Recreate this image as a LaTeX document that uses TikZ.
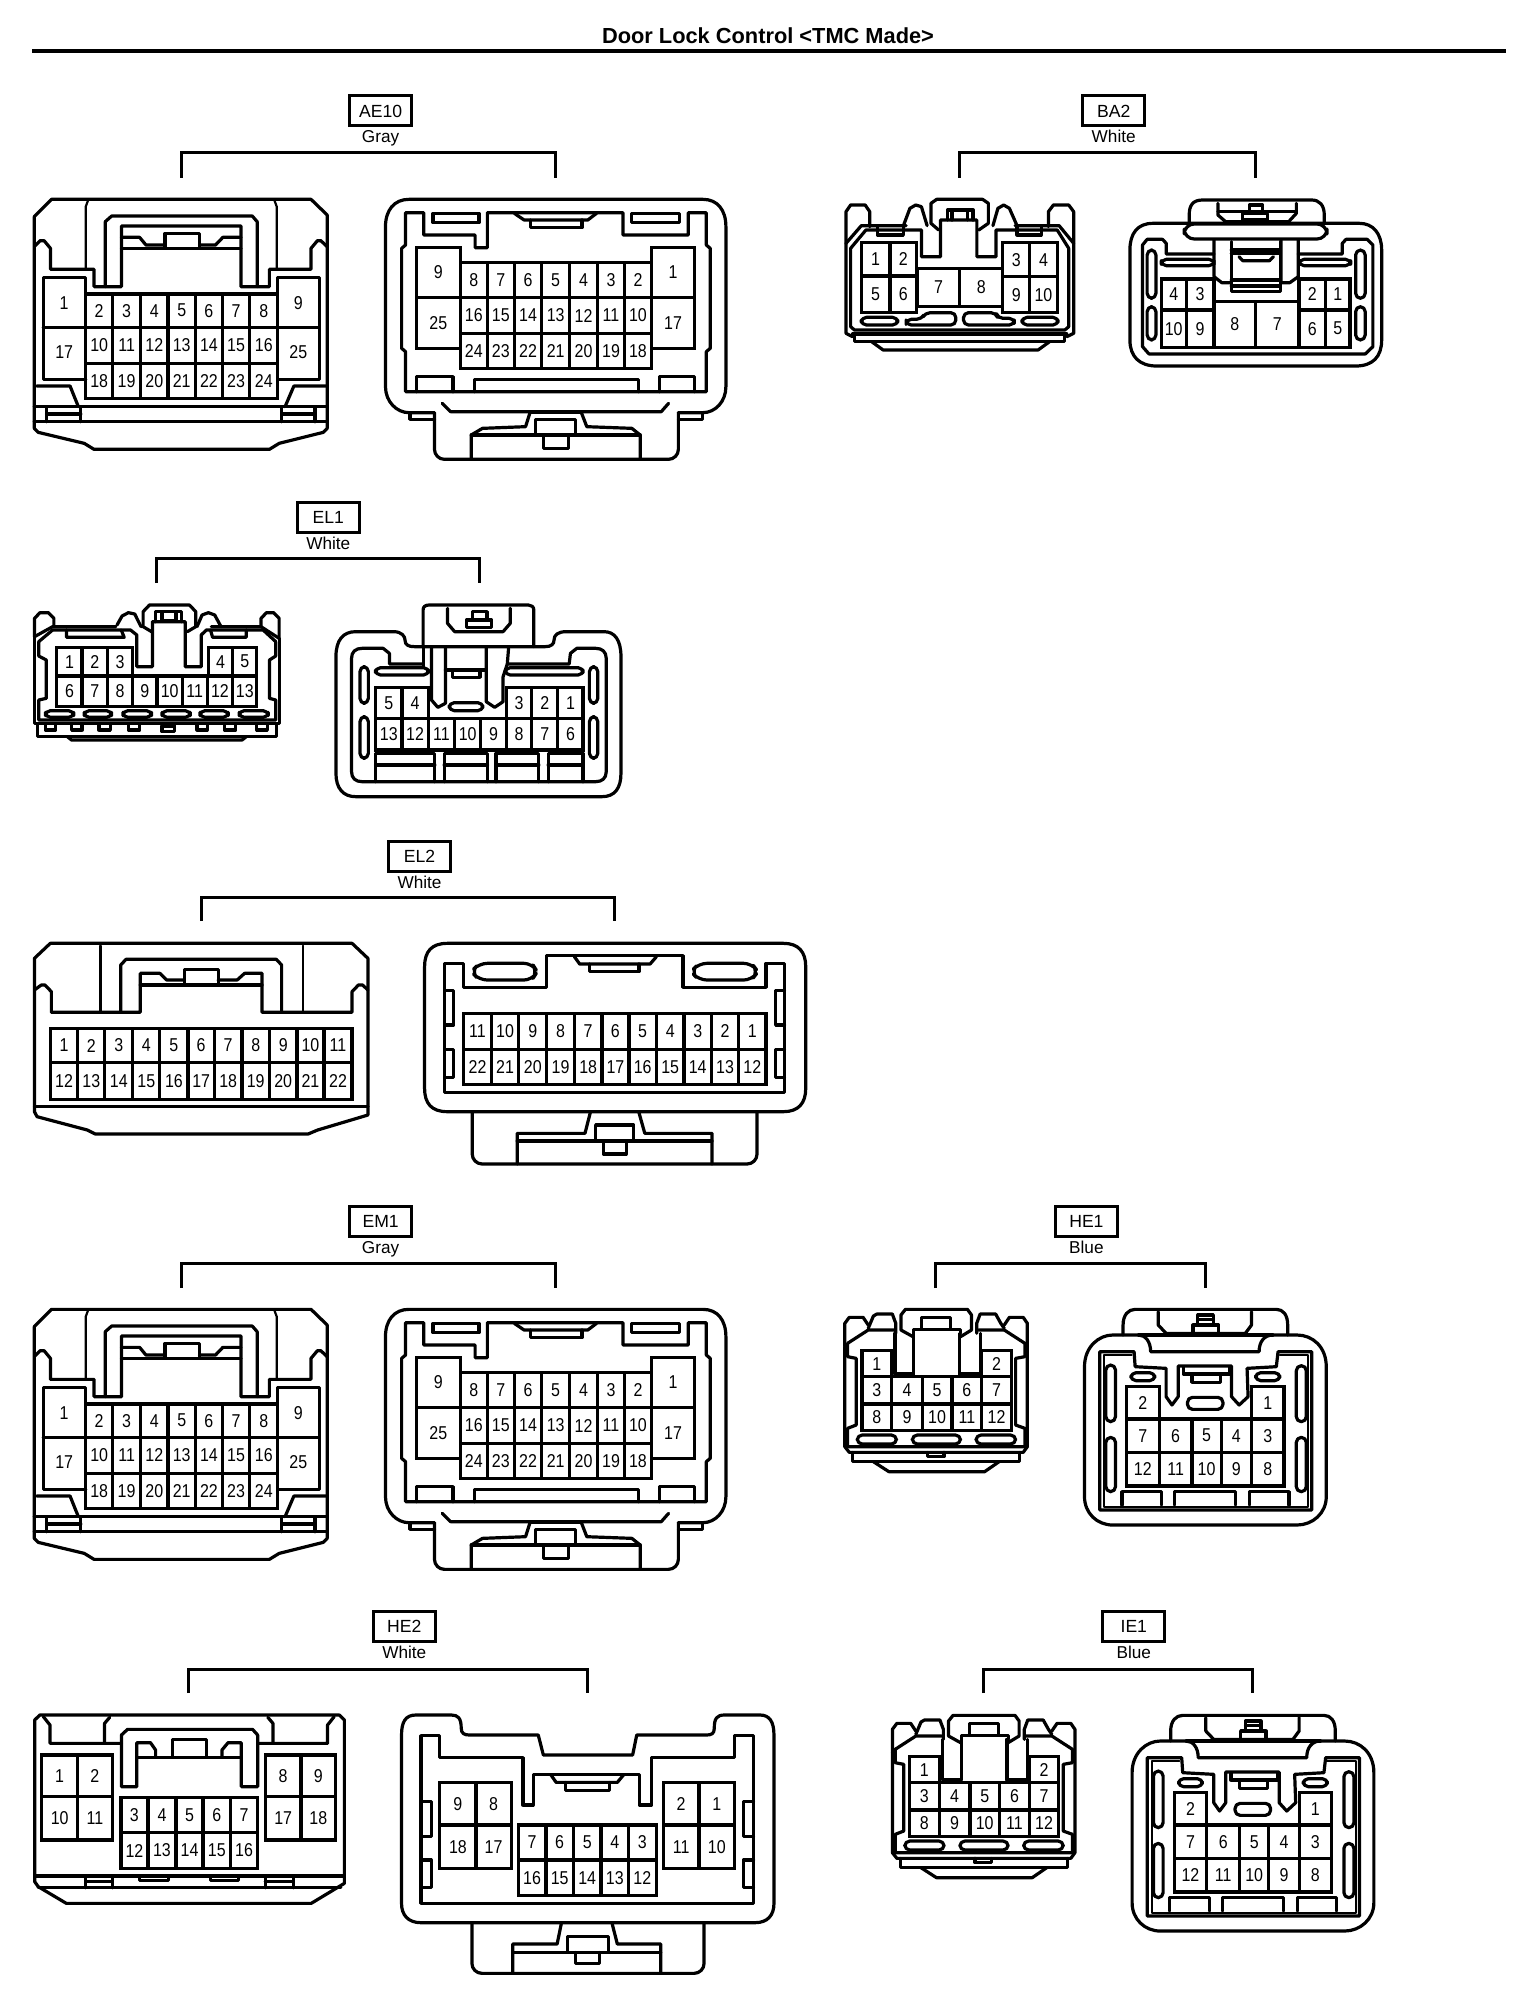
\documentclass[tikz,border=0pt]{standalone}
\usepackage{fontspec}
\setmainfont{Liberation Sans}
\newfontfamily\pinfont[FakeStretch=0.86]{Liberation Sans}
\newcounter{pinno}
\tikzset{
  ln/.style={line width=1.6pt,line join=round,line cap=round},
  thinln/.style={line width=1.1pt,line join=round,line cap=round},
  rnd/.style={ln,rounded corners=5pt},
  cellbox/.style={ln,line join=miter},
  slotln/.style={ln,rounded corners=2.5pt},
  pinlab/.style={font=\pinfont\fontsize{9.3}{10}\selectfont,inner sep=0pt},
  tagbox/.style={draw,line width=1.5pt,minimum width=31pt,minimum height=15pt,inner sep=0pt,font=\fontsize{8.8}{10}\selectfont},
  tagcol/.style={inner sep=0pt,anchor=base,font=\fontsize{8.6}{10}\selectfont},
  brk/.style={line width=1.5pt,line join=miter},
  titletext/.style={inner sep=0pt,font=\fontsize{10.9}{12}\selectfont\bfseries},
  zview/.style n args={3}{shift={(#1,#2)},x=#3,y=-0.16667pt}
}
% one row of numbered cells: y0, y1, first x, list of right-edge/label
\newcommand\cellrow[4]{%
  \foreach \xe/\lbl [remember=\xe as \xs (initially #3)] in {#4} {%
    \draw[cellbox] (\xs,#1) rectangle (\xe,#2);
    \stepcounter{pinno}%
    \node[pinlab] (p\thepinno) at ({(\xs+\xe)/2},{(#1+#2)/2}) {\lbl};
  }%
}
\newcommand\slotbox[4]{\draw[slotln] (#1,#2) rectangle (#3,#4);}
\newcommand\conntag[8]{% id, cx, cy, colour, xl, xr, ytop, yend
  \node[tagbox] (tag#1) at (#2,#3) {#1};
  \node[tagcol] (col#1) at (#2,#3+32) {#4};
  \coordinate (a#1) at (#5,#8);
  \coordinate (b#1) at (#6,#8);
  \coordinate (t#1) at ({(#5+#6)/2},#7);
  \draw[brk] (a#1) |- (t#1) -| (b#1);
}
\newcommand\drawAE{%
\begin{scope}[zview={0}{0}{0.2449pt}]
  % left
  \draw[ln] (70,650) -- (105,598) -- (635,598) -- (668,645) -- (668,1285) -- (660,1297) -- (570,1330) -- (550,1348) -- (192,1348) -- (172,1330) -- (78,1297) -- (70,1285) -- cycle;
  \draw[ln] (70,740) -- (82,722) -- (90,722) -- (103,745) -- (103,808) -- (192,808) -- (192,860) -- (248,860) -- (248,678) -- (492,678) -- (492,860) -- (550,860) -- (550,808) -- (635,808) -- (635,745) -- (648,722) -- (655,722) -- (668,740);
  \draw[thinln] (180,600) -- (175,620) -- (175,808);
  \draw[thinln] (560,600) -- (565,620) -- (565,808);
  \draw[ln] (215,860) -- (215,665) -- (228,648) -- (515,648) -- (525,665) -- (525,860);
  \draw[ln] (248,712) -- (285,712) -- (298,735) -- (337,735);
  \draw[ln] (492,712) -- (455,712) -- (440,735) -- (407,735);
  \draw[ln] (248,745) -- (492,745);
  \draw[ln] (337,745) -- (337,700) -- (407,700) -- (407,745);
  \draw[ln] (175,882) -- (175,832) -- (88,832) -- (88,1138) -- (175,1138);
  \draw[ln] (567,882) -- (567,832) -- (652,832) -- (652,1138) -- (567,1138);
  \draw[ln] (88,982) -- (175,982);
  \draw[ln] (567,982) -- (652,982);
  \node[pinlab] (ae1) at (131,908) {1};
  \node[pinlab] (ae17) at (131,1056) {17};
  \node[pinlab] (ae9) at (609,908) {9};
  \node[pinlab] (ae25) at (609,1056) {25};
  \cellrow{882}{982}{175}{230/2,287/3,343/4,399/5,454/6,510/7,567/8}
  \cellrow{982}{1090}{175}{230/10,287/11,343/12,399/13,454/14,510/15,567/16}
  \cellrow{1090}{1195}{175}{230/18,287/19,343/20,399/21,454/22,510/23,567/24}
  \draw[ln] (75,1158) -- (143,1158) -- (160,1220);
  \draw[ln] (668,1158) -- (600,1158) -- (582,1220);
  \draw[ln] (70,1220) -- (668,1220);
  \draw[ln] (70,1265) -- (668,1265);
  \draw[ln] (95,1220) -- (95,1265);
  \draw[ln] (165,1220) -- (165,1265);
  \draw[ln] (575,1220) -- (575,1265);
  \draw[ln] (643,1220) -- (643,1265);
  \draw[ln] (95,1242) -- (165,1242);
  \draw[ln] (575,1242) -- (643,1242);
  % right
  \draw[ln] (887,1238) -- (835,1238) .. controls (810,1238) and (787,1205) .. (787,1160) -- (787,680) .. controls (787,630) and (805,598) .. (835,598) -- (1435,598) .. controls (1465,598) and (1482,630) .. (1482,680) -- (1482,1160) .. controls (1482,1205) and (1460,1238) .. (1435,1238) -- (1385,1238);
  \draw[ln] (837,1238) -- (837,1258) -- (887,1258);
  \draw[ln] (1435,1238) -- (1435,1258) -- (1385,1258);
  \draw[rnd] (887,1238) -- (887,1378) -- (1385,1378) -- (1385,1238);
  \draw[ln] (828,735) -- (828,638) -- (865,638) -- (865,705) -- (970,705) -- (970,743) -- (995,743) -- (995,638) -- (1272,638) -- (1272,705) -- (1405,705) -- (1405,638) -- (1442,638) -- (1442,735) -- (1450,745) -- (1450,1045) -- (1442,1055) -- (1442,1175) -- (828,1175) -- (828,1055) -- (820,1045) -- (820,745) -- cycle;
  \draw[ln] (1050,640) -- (1070,660) -- (1200,660) -- (1218,640);
  \draw[ln] (1083,660) -- (1083,683) -- (1188,683) -- (1188,660);
  \draw[ln] (884,640) rectangle (978,668);
  \draw[ln] (1290,640) rectangle (1387,668);
  \cellrow{742}{893}{850}{940/9}
  \cellrow{893}{1045}{850}{940/25}
  \cellrow{742}{893}{1330}{1418/1}
  \cellrow{893}{1045}{1330}{1418/17}
  \cellrow{787}{893}{940}{995/8,1050/7,1106/6,1163/5,1220/4,1275/3,1330/2}
  \cellrow{893}{1000}{940}{995/16,1050/15,1106/14,1163/13,1220/12,1275/11,1330/10}
  \cellrow{1000}{1105}{940}{995/24,1050/23,1106/22,1163/21,1220/20,1275/19,1330/18}
  \draw[ln] (850,1175) -- (850,1130) -- (925,1130) -- (925,1175);
  \draw[ln] (968,1175) -- (968,1138) -- (1303,1138) -- (1303,1175);
  \draw[ln] (1347,1175) -- (1347,1130) -- (1418,1130) -- (1418,1175);
  \draw[ln] (903,1210) -- (920,1235) -- (1350,1235) -- (1365,1210);
  \draw[ln] (1082,1238) -- (1187,1238);
  \draw[ln] (1082,1238) -- (1073,1280) -- (985,1285) -- (962,1305) -- (962,1378);
  \draw[ln] (1187,1238) -- (1198,1280) -- (1290,1285) -- (1307,1305) -- (1307,1378);
  \draw[ln] (962,1305) -- (1307,1305);
  \draw[ln] (1093,1305) -- (1093,1258) -- (1175,1258) -- (1175,1305);
  \draw[ln] (1110,1305) -- (1110,1345) -- (1160,1345) -- (1160,1305);
\end{scope}}
\newcommand\drawHE{%
\begin{scope}[zview={820}{1200}{0.1722pt}]
  % left
  \draw[ln] (72,440) -- (72,370) -- (85,352) -- (125,352) -- (140,375);
  \draw[ln] (535,375) -- (550,352) -- (590,352) -- (602,370) -- (602,740) -- (590,757) -- (85,757) -- (72,740) -- (72,440);
  \draw[ln] (80,430) -- (140,390) -- (215,390);
  \draw[ln] (595,430) -- (535,390) -- (460,390);
  \draw[ln] (140,385) -- (155,348) -- (165,342) -- (210,342) -- (220,370) -- (220,400);
  \draw[ln] (455,400) -- (455,370) -- (465,342) -- (510,342) -- (525,370) -- (535,385);
  \draw[ln] (270,410) -- (235,390) -- (235,345) -- (248,328) -- (428,328) -- (440,345) -- (440,390) -- (408,410);
  \draw[ln] (272,400) -- (272,388) -- (295,388) -- (295,352) -- (380,352) -- (380,388) -- (408,388) -- (408,400);
  \draw[ln] (295,388) -- (380,388);
  \draw[ln] (218,400) -- (218,522) -- (272,522) -- (272,400);
  \draw[ln] (405,400) -- (405,522) -- (465,522) -- (465,400);
  \draw[ln] (80,430) -- (80,470) -- (105,475) -- (105,675) -- (80,685) -- (80,740) -- (595,740) -- (595,685) -- (568,675) -- (568,475) -- (595,470) -- (595,430);
  \cellrow{452}{530}{122}{208/1}
  \cellrow{452}{530}{470}{555/2}
  \cellrow{530}{612}{122}{208/3,297/4,383/5,470/6,555/7}
  \cellrow{612}{692}{122}{208/8,297/9,383/10,470/11,555/12}
  \slotbox{108}{705}{222}{732}
  \slotbox{268}{705}{408}{732}
  \slotbox{453}{705}{568}{732}
  \draw[ln] (95,757) -- (95,785) -- (580,785) -- (580,757);
  \draw[ln] (155,785) -- (200,815) -- (478,815) -- (520,785);
  \draw[ln] (312,757) -- (312,770) -- (360,770) -- (360,757);
  % right
  \draw[ln] (768,500) .. controls (768,440) and (810,405) .. (850,405) -- (925,405) .. controls (945,405) and (960,425) .. (960,455) -- (1275,455) .. controls (1275,425) and (1290,405) .. (1315,405) -- (1385,405) .. controls (1430,405) and (1470,440) .. (1470,500) -- (1470,890) .. controls (1470,940) and (1430,975) .. (1385,975) -- (850,975) .. controls (805,975) and (768,940) .. (768,890) -- cycle;
  \draw[ln] (925,405) -- (1315,405);
  \draw[ln] (880,405) -- (880,375) .. controls (880,345) and (895,328) .. (915,328) -- (1325,328) .. controls (1345,328) and (1358,345) .. (1358,375) -- (1358,405);
  \draw[ln] (982,335) -- (982,375) -- (1005,400) -- (1235,400) -- (1253,375) -- (1253,335);
  \draw[ln] (1083,397) -- (1083,375) -- (1157,375) -- (1157,397);
  \draw[ln] (1097,375) -- (1097,345) -- (1142,345) -- (1142,375);
  \draw[ln] (1097,358) -- (1142,358);
  \draw[ln] (812,455) -- (912,455) -- (915,500) -- (1005,505) -- (1005,590) -- (1022,615) -- (1040,590) -- (1040,498) -- (1195,498) -- (1195,590) -- (1217,615) -- (1243,590) -- (1240,505) -- (1325,500) -- (1330,455) -- (1428,455) -- (1428,930) -- (812,930) -- cycle;
  \draw[thinln] (905,465) -- (825,465) -- (825,920) -- (1418,920) -- (1418,465) -- (1335,465);
  \draw[ln] (1055,502) -- (1055,522) -- (1190,522) -- (1190,502);
  \draw[ln] (1080,522) -- (1080,547) -- (1162,547) -- (1162,522);
  \slotbox{903}{518}{972}{542}
  \slotbox{1265}{518}{1335}{542}
  \slotbox{1067}{592}{1170}{628}
  \slotbox{830}{495}{858}{665}
  \slotbox{830}{712}{858}{875}
  \slotbox{1383}{497}{1412}{665}
  \slotbox{1383}{712}{1412}{875}
  \cellrow{560}{657}{890}{985/2}
  \cellrow{560}{657}{1253}{1347/1}
  \cellrow{657}{757}{890}{985/7,1080/6,1165/5,1253/4,1347/3}
  \cellrow{757}{858}{890}{985/12,1080/11,1165/10,1253/9,1347/8}
  \draw[ln] (877,915) -- (877,875) -- (992,875) -- (992,915);
  \draw[ln] (1030,915) -- (1030,875) -- (1207,875) -- (1207,915);
  \draw[ln] (1248,915) -- (1248,875) -- (1362,875) -- (1362,915);
\end{scope}}
\begin{document}
\begin{tikzpicture}[x=0.5pt,y=-0.5pt]
\useasboundingbox (0,0) rectangle (1536,2000);
\node[titletext] (title) at (768,36) {Door Lock Control <TMC Made>};
\coordinate (ruleL) at (32,51);
\coordinate (ruleR) at (1506,51);
\draw[line width=2pt] (ruleL) -- (ruleR);
% tags and brackets
\conntag{AE10}{380.6}{111}{Gray}{181}{555.5}{153}{178}
\conntag{BA2}{1113.7}{111}{White}{959}{1255.5}{153}{178}
\conntag{EL1}{328.3}{517}{White}{156.6}{479}{558}{583}
\conntag{EL2}{419.5}{856}{White}{201}{614}{897}{921}
\conntag{EM1}{380.6}{1221}{Gray}{181}{555.5}{1263}{1288}
\conntag{HE1}{1086.4}{1221}{Blue}{935.4}{1205.7}{1263}{1288}
\conntag{HE2}{404.3}{1626}{White}{188.8}{587.8}{1669}{1693}
\conntag{IE1}{1133.8}{1626}{Blue}{983}{1252.3}{1669}{1693}
% AE10 and EM1
\drawAE
\begin{scope}[shift={(0,1110)}]\drawAE\end{scope}
% BA2
\begin{scope}[zview={820}{80}{0.1913pt}]
  \draw[ln] (68,490) -- (68,395) -- (80,375) -- (118,375) -- (130,395) -- (130,440);
  \draw[ln] (597,440) -- (597,395) -- (610,375) -- (650,375) -- (663,395) -- (663,490);
  \draw[ln] (68,490) -- (108,437) -- (225,437);
  \draw[ln] (663,490) -- (625,437) -- (510,437);
  \draw[ln] (80,505) -- (120,450) -- (265,450) -- (265,530) -- (315,530) -- (315,420) -- (410,420) -- (410,530) -- (460,530) -- (460,450) -- (620,450) -- (650,505);
  \draw[ln] (150,437) -- (150,465) -- (218,465) -- (218,437);
  \draw[ln] (515,437) -- (515,465) -- (578,465) -- (578,437);
  \draw[ln] (310,450) -- (290,430) -- (290,370) -- (305,358) -- (425,358) -- (440,370) -- (440,430) -- (415,450);
  \draw[ln] (333,420) -- (333,390) -- (400,390) -- (400,420);
  \draw[ln] (345,390) -- (345,420);
  \draw[ln] (385,390) -- (385,420);
  \draw[ln] (218,437) -- (235,385) -- (250,375) -- (265,380) -- (280,437);
  \draw[ln] (452,437) -- (465,385) -- (480,375) -- (495,385) -- (515,437);
  \draw[ln] (68,490) -- (68,760) -- (85,770);
  \draw[ln] (663,490) -- (663,760) -- (645,770);
  \draw[ln] (80,505) -- (80,740) -- (90,750) -- (640,750) -- (650,740) -- (650,505);
  \draw[ln] (85,762) -- (645,762);
  \draw[ln] (90,765) -- (90,785) -- (640,785) -- (640,765);
  \draw[ln] (135,785) -- (165,810) -- (570,810) -- (600,785);
  \cellrow{488}{588}{108}{183/1,252/2}
  \cellrow{588}{698}{108}{183/5,252/6}
  \cellrow{565}{680}{255}{365/7,478/8}
  \cellrow{488}{590}{478}{548/3,620/4}
  \cellrow{590}{698}{478}{548/9,620/10}
  \slotbox{108}{712}{203}{735}
  \slotbox{528}{712}{622}{735}
  \draw[slotln] (225,718) -- (265,718) -- (275,698) -- (355,698) -- (355,735) -- (225,735) -- cycle;
  \draw[slotln] (375,698) -- (460,698) -- (465,715) -- (508,715) -- (508,735) -- (375,735) -- cycle;
  % right
  \draw[ln] (810,510) .. controls (810,460) and (830,430) .. (870,430) -- (1410,430) .. controls (1445,430) and (1468,460) .. (1468,510) -- (1468,780) .. controls (1468,830) and (1445,858) .. (1400,858) -- (880,858) .. controls (835,858) and (810,830) .. (810,780) -- cycle;
  \draw[ln] (965,432) -- (965,405) .. controls (965,375) and (975,360) .. (1000,360) -- (1285,360) .. controls (1305,360) and (1318,375) .. (1318,405) -- (1318,432);
  \draw[fill=white,rnd] (952,432) rectangle (1325,477);
  \draw[ln] (1040,370) -- (1040,405) -- (1060,425) -- (1225,425) -- (1245,400) -- (1245,370);
  \draw[ln] (1040,395) -- (1245,395);
  \draw[ln] (1105,400) rectangle (1170,420);
  \draw[ln] (1122,375) rectangle (1157,395);
  \draw[ln] (1030,480) -- (1030,590) -- (1050,608) -- (1075,608);
  \draw[ln] (1250,480) -- (1250,590) -- (1228,608) -- (1205,608) -- (1205,480);
  \draw[ln] (1030,522) -- (905,522) -- (905,490) -- (895,478) -- (855,478) -- (843,495) -- (843,800) -- (860,822) -- (1425,822) -- (1445,800) -- (1445,495) -- (1430,478) -- (1375,478) -- (1365,490) -- (1365,522) -- (1250,522);
  \draw[ln] (1075,485) -- (1075,635) -- (1203,635) -- (1203,485);
  \draw[ln] (1075,510) -- (1203,510);
  \draw[ln] (1075,520) -- (1203,520);
  \draw[ln] (1095,530) -- (1105,542) -- (1175,542) -- (1185,530);
  \draw[ln] (1075,600) -- (1203,600);
  \draw[ln] (1075,618) -- (1203,618);
  \slotbox{855}{510}{878}{655}
  \slotbox{855}{680}{878}{780}
  \slotbox{1400}{510}{1425}{655}
  \slotbox{1400}{680}{1425}{780}
  \slotbox{892}{538}{1030}{557}
  \slotbox{1252}{538}{1387}{557}
  \cellrow{597}{690}{892}{957/4,1030/3}
  \cellrow{690}{802}{892}{957/10,1030/9}
  \cellrow{665}{802}{1030}{1138/8,1252/7}
  \cellrow{597}{690}{1252}{1322/2,1385/1}
  \cellrow{690}{802}{1252}{1322/6,1385/5}
\end{scope}
% EL1
\begin{scope}[zview={0}{490}{0.2105pt}]
  \draw[ln] (82,440) -- (82,385) -- (95,368) -- (115,368) -- (128,385) -- (128,410);
  \draw[ln] (620,410) -- (620,385) -- (633,368) -- (650,368) -- (663,385) -- (663,445);
  \draw[ln] (82,440) -- (125,410) -- (275,410);
  \draw[ln] (502,410) -- (620,410) -- (663,445);
  \draw[ln] (92,455) -- (125,420) -- (310,420) -- (325,435) -- (325,530) -- (362,530) -- (362,395) -- (440,395) -- (440,530) -- (478,530) -- (478,435) -- (490,420) -- (625,420) -- (655,455);
  \draw[ln] (82,440) -- (82,700) -- (663,700) -- (663,445);
  \draw[ln] (92,455) -- (92,498) -- (110,510) -- (110,625) -- (92,630) -- (92,690) -- (655,690) -- (655,630) -- (640,625) -- (640,510) -- (655,498) -- (655,455);
  \draw[ln] (90,705) -- (90,740) -- (657,740) -- (657,705);
  \draw[ln] (160,740) -- (170,750) -- (575,750) -- (585,740);
  \foreach \ta/\tb in {108/132,170/195,235/262,305/332,468/492,533/560,610/635}{\draw[ln] (\ta,705) -- (\ta,720) -- (\tb,720) -- (\tb,705);}
  \draw[ln] (385,708) rectangle (415,725);
  \draw[ln] (158,420) -- (158,442) -- (295,442) -- (288,420);
  \draw[ln] (500,420) -- (505,442) -- (585,442) -- (585,420);
  \draw[ln] (360,425) -- (340,410) -- (340,365) -- (355,345) -- (450,345) -- (465,365) -- (465,410) -- (445,425);
  \draw[ln] (370,395) -- (370,365) -- (432,365) -- (432,395);
  \draw[ln] (385,365) -- (385,392) -- (418,392) -- (418,365);
  \draw[ln] (278,405) -- (290,378) -- (305,368) -- (320,372) -- (335,410);
  \draw[ln] (468,410) -- (480,375) -- (495,368) -- (510,375) -- (525,410);
  \cellrow{472}{558}{135}{195/1,255/2,315/3}
  \cellrow{472}{558}{495}{553/4,610/5}
  \cellrow{558}{650}{135}{195/6,255/7,315/8,373/9,433/10,492/11,553/12,610/13}
  \foreach \ta/\tb in {108/175,200/265,292/360,385/452,475/542,568/637}{\slotbox{\ta}{662}{\tb}{682}}
  % right
  \draw[ln] (798,500) .. controls (798,450) and (815,425) .. (845,425) -- (935,425) .. controls (955,425) and (962,440) .. (962,450) .. controls (962,465) and (970,470) .. (985,470) -- (1295,470) .. controls (1310,470) and (1316,462) .. (1316,450) .. controls (1316,435) and (1325,425) .. (1345,425) -- (1435,425) .. controls (1460,425) and (1475,450) .. (1475,500) -- (1475,850) .. controls (1475,895) and (1460,920) .. (1430,920) -- (845,920) .. controls (815,920) and (798,895) .. (798,850) -- cycle;
  \draw[ln] (1005,470) -- (1005,360) .. controls (1005,350) and (1010,345) .. (1020,345) -- (1255,345) .. controls (1262,345) and (1268,350) .. (1268,360) -- (1268,470);
  \draw[ln] (1063,355) -- (1063,400) -- (1080,425) -- (1195,425) -- (1212,400) -- (1212,355);
  \draw[ln] (1108,390) rectangle (1168,412);
  \draw[ln] (1122,365) rectangle (1157,390);
  \draw[ln] (1005,522) -- (925,522) -- (925,490) -- (910,475) -- (860,475) .. controls (845,475) and (835,485) .. (835,505) -- (835,845) .. controls (835,865) and (845,875) .. (860,875) -- (1415,875) .. controls (1430,875) and (1440,865) .. (1440,845) -- (1440,505) .. controls (1440,485) and (1430,475) .. (1415,475) -- (1370,475) -- (1355,490) -- (1352,522) -- (1205,522);
  \draw[ln] (1005,470) -- (1005,530);
  \draw[ln] (1208,475) -- (1205,522) -- (1195,560) -- (1195,635) -- (1175,652) -- (1155,635) -- (1155,475);
  \draw[ln] (1025,475) -- (1025,630) -- (1040,652) -- (1058,640) -- (1058,475);
  \draw[ln] (1058,540) -- (1155,540);
  \draw[ln] (1075,545) -- (1075,562) -- (1140,562) -- (1140,545);
  \draw[fill=white,slotln] (892,533) rectangle (1018,555);
  \draw[fill=white,slotln] (1200,533) rectangle (1385,555);
  \slotbox{1067}{638}{1147}{662}
  \slotbox{855}{530}{875}{640}
  \slotbox{855}{680}{875}{805}
  \slotbox{1400}{530}{1420}{640}
  \slotbox{1400}{680}{1420}{805}
  \cellrow{592}{685}{892}{955/5,1017/4}
  \cellrow{592}{685}{1203}{1263/3,1325/2,1385/1}
  \cellrow{685}{780}{892}{955/13,1017/12,1080/11,1142/10,1203/9,1263/8,1325/7,1385/6}
  \draw[ln] (892,875) -- (892,790) -- (1033,790) -- (1033,875);
  \draw[ln] (1055,875) -- (1055,790) -- (1158,790) -- (1158,875);
  \draw[ln] (1178,875) -- (1178,790) -- (1280,790) -- (1280,875);
  \draw[ln] (1302,875) -- (1302,790) -- (1385,790) -- (1385,875);
  \foreach \ta/\tb in {892/1033,1055/1158,1178/1280,1302/1385}{\draw[ln] (\ta,825) -- (\tb,825);}
\end{scope}
% EL2
\begin{scope}[zview={0}{840}{0.2647pt}]
  \draw[ln] (65,355) -- (95,310) -- (665,310) -- (695,355) -- (695,825) -- (600,870) -- (582,882) -- (180,882) -- (165,870) -- (70,830) -- (65,815) -- cycle;
  \draw[ln] (65,800) -- (695,800);
  \draw[ln] (65,450) -- (78,435) -- (85,435) -- (97,455) -- (97,517) -- (265,517) -- (265,400) -- (302,400) -- (315,420) -- (348,420);
  \draw[ln] (412,420) -- (448,420) -- (462,400) -- (495,400) -- (495,517) -- (665,517) -- (665,455) -- (677,435) -- (685,435) -- (695,450);
  \draw[ln] (265,435) -- (495,435);
  \draw[ln] (348,435) -- (348,388) -- (412,388) -- (412,435);
  \draw[thinln] (190,317) -- (190,517);
  \draw[thinln] (572,317) -- (572,517);
  \draw[ln] (228,517) -- (228,375) -- (238,358) -- (522,358) -- (532,375) -- (532,517);
  \cellrow{565}{668}{95}{147/1,198/2,251/3,302/4,355/5,405/6,457/7,509/8,561/9,612/10,665/11}
  \cellrow{668}{778}{95}{147/12,198/13,251/14,302/15,355/16,405/17,457/18,509/19,561/20,612/21,665/22}
  % right
  \draw[ln] (802,380) .. controls (802,335) and (815,310) .. (845,310) -- (1480,310) .. controls (1508,310) and (1522,335) .. (1522,380) -- (1522,745) .. controls (1522,790) and (1508,815) .. (1480,815) -- (845,815) .. controls (815,815) and (802,790) .. (802,745) -- cycle;
  \draw[ln] (840,370) -- (875,370) -- (875,442) -- (1032,442) -- (1032,347) -- (1290,347) -- (1290,442) -- (1447,442) -- (1447,370) -- (1482,370) -- (1482,757) -- (840,757) -- cycle;
  \draw[ln] (1085,350) -- (1095,372) -- (1228,372) -- (1240,350);
  \draw[ln] (1113,372) -- (1113,395) -- (1207,395) -- (1207,372);
  \draw[ln,rounded corners=4pt] (890,395) -- (905,370) -- (1005,370) -- (1015,395) -- (1005,420) -- (905,420) -- cycle;
  \draw[ln,rounded corners=4pt] (1305,395) -- (1320,370) -- (1420,370) -- (1432,395) -- (1420,420) -- (1320,420) -- cycle;
  \draw[ln] (840,452) -- (857,452) -- (857,555) -- (840,555);
  \draw[ln] (840,628) -- (857,628) -- (857,712) -- (840,712);
  \draw[ln] (1482,452) -- (1465,452) -- (1465,555) -- (1482,555);
  \draw[ln] (1482,628) -- (1465,628) -- (1465,712) -- (1482,712);
  \cellrow{520}{628}{876}{928/11,980/10,1033/9,1085/8,1137/7,1188/6,1240/5,1292/4,1344/3,1395/2,1447/1}
  \cellrow{628}{733}{876}{928/22,980/21,1033/20,1085/19,1137/18,1188/17,1240/16,1292/15,1344/14,1395/13,1447/12}
  \draw[rnd] (892,815) -- (892,972) -- (1430,972) -- (1430,815);
  \draw[ln] (1115,818) -- (1105,880) -- (977,880) -- (977,972);
  \draw[ln] (1207,818) -- (1218,880) -- (1345,880) -- (1345,972);
  \draw[ln] (977,903) -- (1345,903);
  \draw[ln] (1125,903) -- (1125,855) -- (1197,855) -- (1197,903);
  \draw[ln] (1140,903) -- (1140,942) -- (1183,942) -- (1183,903);
\end{scope}
% HE1 and IE1
\drawHE
\begin{scope}[shift={(47.6,406)}]\drawHE\end{scope}
% HE2
\begin{scope}[zview={0}{1620}{0.2551pt}]
  \draw[ln] (68,300) -- (78,285) -- (665,285) -- (675,300) -- (675,790) -- (610,850) -- (130,850) -- (75,800) -- (68,785) -- cycle;
  \draw[ln] (68,768) -- (675,768);
  \draw[ln] (75,803) -- (668,803);
  \draw[ln] (85,290) -- (98,315) -- (98,370) -- (238,370);
  \draw[ln] (505,370) -- (642,370) -- (642,315) -- (655,290);
  \draw[ln] (205,370) -- (205,310) -- (215,292);
  \draw[ln] (535,370) -- (535,310) -- (525,292);
  \draw[ln] (305,412) -- (305,390) -- (295,368) -- (268,368) -- (268,500) -- (238,500) -- (238,345) -- (250,328) -- (495,328) -- (505,345) -- (505,500) -- (473,500) -- (473,368) -- (447,368) -- (435,390) -- (435,412);
  \draw[ln] (268,412) -- (473,412);
  \draw[ln] (338,412) -- (338,358) -- (405,358) -- (405,412);
  \cellrow{405}{530}{82}{152/1,220/2}
  \cellrow{530}{660}{82}{152/10,220/11}
  \cellrow{405}{530}{520}{590/8,658/9}
  \cellrow{530}{660}{520}{590/17,658/18}
  \cellrow{532}{638}{237}{290/3,345/4,398/5,452/6,505/7}
  \cellrow{638}{745}{237}{290/12,345/13,398/14,452/15,505/16}
  \draw[ln] (168,768) -- (168,803);
  \draw[ln] (220,768) -- (220,803);
  \draw[ln] (168,785) -- (220,785);
  \draw[ln] (520,768) -- (520,803);
  \draw[ln] (575,768) -- (575,803);
  \draw[ln] (520,785) -- (575,785);
  \draw[ln] (273,768) -- (273,782) -- (330,782) -- (330,768);
  \draw[ln] (412,768) -- (412,782) -- (467,782) -- (467,768);
  % right
  \draw[ln] (787,345) .. controls (787,305) and (795,285) .. (815,285) -- (885,285) .. controls (898,285) and (904,295) .. (904,325) .. controls (904,340) and (910,345) .. (920,345) -- (1055,345) -- (1065,405) -- (1240,405) -- (1248,345) -- (1385,345) .. controls (1395,345) and (1400,340) .. (1400,325) .. controls (1400,295) and (1405,285) .. (1420,285) -- (1490,285) .. controls (1508,285) and (1517,305) .. (1517,345) -- (1517,850) .. controls (1517,885) and (1505,908) .. (1480,908) -- (825,908) .. controls (800,908) and (787,885) .. (787,850) -- cycle;
  \draw[ln] (825,347) -- (862,347) -- (862,413) -- (1025,413) -- (1025,555) -- (1045,555) -- (1045,463) -- (1253,463) -- (1253,555) -- (1277,555) -- (1277,413) -- (1440,413) -- (1440,347) -- (1477,347) -- (1477,850) -- (825,850) -- cycle;
  \draw[ln] (1080,465) -- (1090,487) -- (1210,487) -- (1222,465);
  \draw[ln] (1108,487) -- (1108,512) -- (1195,512) -- (1195,487);
  \draw[ln] (825,545) -- (845,545) -- (845,650) -- (825,650);
  \draw[ln] (825,720) -- (845,720) -- (845,803) -- (825,803);
  \draw[ln] (1477,545) -- (1457,545) -- (1457,650) -- (1477,650);
  \draw[ln] (1477,720) -- (1457,720) -- (1457,803) -- (1477,803);
  \cellrow{488}{615}{862}{933/9,1002/8}
  \cellrow{615}{745}{862}{933/18,1002/17}
  \cellrow{488}{615}{1300}{1370/2,1440/1}
  \cellrow{615}{745}{1300}{1370/11,1440/10}
  \cellrow{615}{720}{1016}{1070/7,1124/6,1178/5,1232/4,1286/3}
  \cellrow{720}{827}{1016}{1070/16,1124/15,1178/14,1232/13,1286/12}
  \draw[rnd] (925,908) -- (925,1060) -- (1380,1060) -- (1380,908);
  \draw[ln] (1100,912) -- (1092,972) -- (1005,972) -- (1005,1060);
  \draw[ln] (1200,912) -- (1210,972) -- (1295,972) -- (1295,1060);
  \draw[ln] (1005,997) -- (1295,997);
  \draw[ln] (1112,997) -- (1112,950) -- (1192,950) -- (1192,997);
  \draw[ln] (1128,997) -- (1128,1030) -- (1175,1030) -- (1175,997);
\end{scope}
\end{tikzpicture}
\end{document}
